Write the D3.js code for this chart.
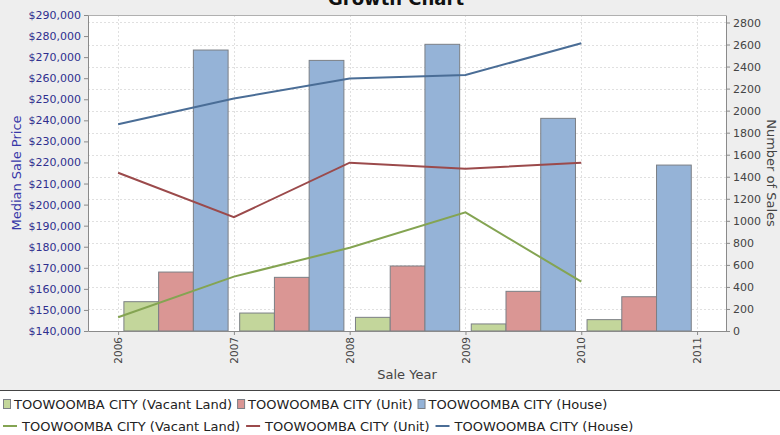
<!DOCTYPE html>
<html>
<head>
<meta charset="utf-8">
<script src="https://cdn.jsdelivr.net/npm/d3@7"></script>
<style>
  html, body { margin: 0; padding: 0; background: #eeeeee; }
  svg { display: block; font-family: "DejaVu Sans", sans-serif; }
</style>
</head>
<body>
<svg id="chart" width="780" height="435"></svg>
<script>
// Sale years (one bar group and one line point per year)
const years = [2006, 2007, 2008, 2009, 2010];
const yearTicks = [2006, 2007, 2008, 2009, 2010, 2011];

// Number of sales (bars, right axis)
const salesVacantLand = [266, 163, 124, 64, 103];
const salesUnit = [535, 487, 590, 360, 311];
const salesHouse = [2550, 2456, 2602, 1930, 1506];

// Median sale price (lines, left axis)
const priceVacantLand = [146500, 165800, 179500, 196300, 163400];
const priceUnit = [215100, 194000, 219900, 217000, 219900];
const priceHouse = [238100, 250400, 259800, 261500, 276600];

const seriesNames = [
  "TOOWOOMBA CITY (Vacant Land)",
  "TOOWOOMBA CITY (Unit)",
  "TOOWOOMBA CITY (House)"
];
const priceTicks = d3.range(140000, 290001, 10000);
const salesTicks = d3.range(0, 2801, 200);

const barFill = ["#c3d69b", "#da9694", "#95b3d7"];
const barStroke = "#7b7f85";
const lineColor = ["#84a452", "#9b4a4b", "#4a6d96"];

const svg = d3.select("#chart");
const plot = { left: 88, right: 726, top: 15, bottom: 331 };

const x = d3.scaleLinear().domain([2005.74, 2011.25]).range([plot.left, plot.right]);
const yPrice = d3.scaleLinear().domain([140000, 290000]).range([plot.bottom, plot.top]);
const ySales = d3.scaleLinear().domain([0, 2868]).range([plot.bottom, plot.top]);
const inner = d3.scaleBand().domain([0, 1, 2]).range([0, x(2007) - x(2006)])
  .paddingInner(0).paddingOuter(0.1667);

// Plot background
svg.append("rect")
  .attr("x", plot.left).attr("y", plot.top)
  .attr("width", plot.right - plot.left).attr("height", plot.bottom - plot.top)
  .attr("fill", "#ffffff");

// Grid lines
const grid = svg.append("g").attr("stroke", "#e0e0e0").attr("stroke-width", 1)
  .attr("stroke-dasharray", "2,2");
grid.selectAll("line.h").data(salesTicks).join("line")
  .attr("x1", plot.left).attr("x2", plot.right)
  .attr("y1", d => Math.round(ySales(d)) + 0.5).attr("y2", d => Math.round(ySales(d)) + 0.5);
grid.selectAll("line.v").data(yearTicks).join("line")
  .attr("y1", plot.top).attr("y2", plot.bottom)
  .attr("x1", d => Math.round(x(d)) + 0.5).attr("x2", d => Math.round(x(d)) + 0.5);

// Bars
const barSeries = [salesVacantLand, salesUnit, salesHouse];
barSeries.forEach((vals, si) => {
  svg.append("g").selectAll("rect").data(years.map((yr, i) => ({ yr, v: vals[i] }))).join("rect")
    .attr("x", d => x(d.yr) + inner(si))
    .attr("width", inner.bandwidth())
    .attr("y", d => ySales(d.v))
    .attr("height", d => plot.bottom - ySales(d.v))
    .attr("fill", barFill[si])
    .attr("stroke", barStroke)
    .attr("stroke-width", 1);
});

// Lines
const priceSeries = [priceVacantLand, priceUnit, priceHouse];
const line = d3.line().x(d => x(d.yr)).y(d => yPrice(d.v));
priceSeries.forEach((vals, si) => {
  svg.append("path")
    .datum(years.map((yr, i) => ({ yr, v: vals[i] })))
    .attr("d", line)
    .attr("fill", "none")
    .attr("stroke", lineColor[si])
    .attr("stroke-width", 2);
});

// Plot top border
svg.append("line").attr("x1", plot.left).attr("x2", plot.right)
  .attr("y1", plot.top + 0.5).attr("y2", plot.top + 0.5).attr("stroke", "#b0b0b0");

// Axes
function styleAxis(g, color) {
  g.select(".domain").attr("stroke", "#8a8a8a");
  g.selectAll(".tick line").attr("stroke", "#8a8a8a");
  g.selectAll(".tick text").attr("fill", color);
}

svg.append("g")
  .attr("transform", `translate(${plot.left},0)`)
  .call(d3.axisLeft(yPrice).tickValues(priceTicks)
    .tickFormat(d => "$" + d3.format(",")(d)).tickSize(4).tickPadding(3).tickSizeOuter(0))
  .call(g => g.selectAll("text").attr("font-size", 11).attr("font-family", "DejaVu Sans"))
  .call(g => styleAxis(g, "#2f2f8f"));

svg.append("g")
  .attr("transform", `translate(${plot.right},0)`)
  .call(d3.axisRight(ySales).tickValues(salesTicks).tickFormat(d3.format("d"))
    .tickSize(4).tickPadding(3).tickSizeOuter(0))
  .call(g => g.selectAll("text").attr("font-size", 11).attr("font-family", "DejaVu Sans"))
  .call(g => styleAxis(g, "#444444"));

const xAxis = svg.append("g")
  .attr("transform", `translate(0,${plot.bottom})`)
  .call(d3.axisBottom(x).tickValues(yearTicks).tickFormat(d3.format("d")).tickSize(4).tickSizeOuter(0))
  .call(g => styleAxis(g, "#444444"));
xAxis.selectAll(".tick text")
  .attr("font-size", 10.5)
  .attr("font-family", "DejaVu Sans")
  .attr("transform", "rotate(-90)")
  .attr("text-anchor", "end")
  .attr("x", -6).attr("y", 0).attr("dy", "0.35em");

// Axis titles
svg.append("text")
  .attr("transform", `translate(21,${(plot.top + plot.bottom) / 2}) rotate(-90)`)
  .attr("text-anchor", "middle").attr("font-size", 13).attr("fill", "#3838a8")
  .text("Median Sale Price");
svg.append("text")
  .attr("transform", `translate(767,${(plot.top + plot.bottom) / 2}) rotate(90)`)
  .attr("text-anchor", "middle").attr("font-size", 13).attr("fill", "#444444")
  .text("Number of Sales");
svg.append("text")
  .attr("x", (plot.left + plot.right) / 2).attr("y", 379)
  .attr("text-anchor", "middle").attr("font-size", 13).attr("fill", "#444444")
  .text("Sale Year");

// Title
svg.append("text")
  .attr("x", 396).attr("y", 5)
  .attr("text-anchor", "middle").attr("font-size", 18).attr("font-weight", "bold")
  .attr("fill", "#111111")
  .text("Growth Chart");

// Legend
const legend = svg.append("g");
legend.append("rect").attr("x", -1).attr("y", 390.5).attr("width", 782).attr("height", 50)
  .attr("fill", "#ffffff").attr("stroke", "#444444");

let lx = 3;
seriesNames.forEach((name, i) => {
  legend.append("rect").attr("x", lx + 0.5).attr("y", 399.5).attr("width", 7).attr("height", 9)
    .attr("fill", barFill[i]).attr("stroke", barStroke);
  const t = legend.append("text").attr("x", lx + 11).attr("y", 408.5)
    .attr("font-size", 13).attr("fill", "#222222").text(name);
  lx += 11 + t.node().getComputedTextLength() + 5;
});

lx = 3;
seriesNames.forEach((name, i) => {
  legend.append("line").attr("x1", lx).attr("x2", lx + 14)
    .attr("y1", 426).attr("y2", 426).attr("stroke", lineColor[i]).attr("stroke-width", 2);
  const t = legend.append("text").attr("x", lx + 19).attr("y", 430.5)
    .attr("font-size", 13).attr("fill", "#222222").text(name);
  lx += 19 + t.node().getComputedTextLength() + 6;
});
</script>
</body>
</html>
